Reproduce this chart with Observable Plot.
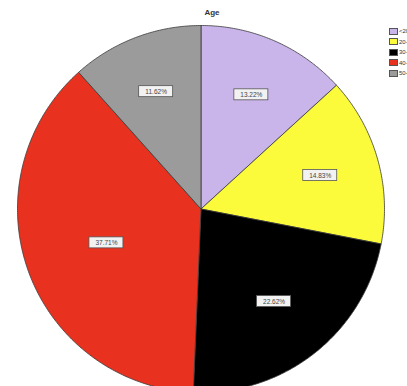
<!DOCTYPE html>
<html>
<head>
<meta charset="utf-8">
<script src="https://cdn.jsdelivr.net/npm/d3@7"></script>
<script src="https://cdn.jsdelivr.net/npm/@observablehq/plot@0.6"></script>
<style>
  html, body { margin: 0; padding: 0; background: #fff; overflow: hidden; }
  #wrap { position: relative; width: 407px; height: 386px; }
  #legend { position: absolute; left: 389px; top: 26px; font: 6px "Liberation Sans", Arial, sans-serif; color: #333; }
  #legend div { display: flex; align-items: center; height: 10.5px; white-space: nowrap; }
  #legend span.sw { display: inline-block; width: 7px; height: 5px; border: 0.5px solid #555; margin-right: 1px; }
</style>
</head>
<body>
<div id="wrap"><div id="chart"></div><div id="legend"></div></div>
<script>
const categories = ["<20", "20-29", "30-39", "40-49", "50+"];
const percents = [13.22, 14.83, 22.62, 37.71, 11.62];
const labels = ["13.22%", "14.83%", "22.62%", "37.71%", "11.62%"];
const colors = ["#c9b5ea", "#fbfb3c", "#000000", "#e8321f", "#9b9b9b"];
const title = "Age";

const data = categories.map((c, i) => ({key: c, value: percents[i], label: labels[i]}));
const arcs = d3.pie().sort(null).value(d => d.value)(data);

const poly = [];
const labelPts = [];
arcs.forEach(a => {
  const k = a.data.key;
  poly.push({key: k, x: 0, y: 0});
  const n = Math.max(2, Math.ceil((a.endAngle - a.startAngle) / 0.01));
  for (let j = 0; j <= n; j++) {
    const t = a.startAngle + (a.endAngle - a.startAngle) * j / n;
    poly.push({key: k, x: Math.sin(t), y: Math.cos(t)});
  }
  poly.push({key: k, x: 0, y: 0});
  const m = (a.startAngle + a.endAngle) / 2;
  const th = a.endAngle - a.startAngle;
  // centroid of the sector, pushed slightly outward
  const r = 1.05 * 4 * Math.sin(th / 2) / (3 * th);
  labelPts.push({key: k, label: a.data.label, x: r * Math.sin(m), y: r * Math.cos(m)});
});

const chart = Plot.plot({
  width: 407,
  height: 386,
  margin: 0,
  x: {domain: [-1, 1], range: [17, 384], axis: null},
  y: {domain: [-1, 1], range: [392, 25], axis: null},
  color: {domain: categories, range: colors},
  marks: [
    Plot.line(poly, {x: "x", y: "y", z: "key", fill: "key", stroke: "#3a3a3a", strokeWidth: 0.8, curve: "linear"}),
    Plot.rect(labelPts, {x1: "x", x2: "x", y1: "y", y2: "y", insetLeft: -17, insetRight: -17, insetTop: -5.5, insetBottom: -5.5, fill: "#f2f2f2", stroke: "#555", strokeWidth: 0.8}),
    Plot.text(labelPts, {x: "x", y: "y", text: "label", fontSize: 6.5, fill: "#444", fontFamily: "Liberation Sans, Arial, sans-serif"}),
    Plot.text([title], {frameAnchor: "top", dy: 9, dx: 8, text: d => d, fontSize: 8, fontWeight: "bold", fill: "#333", fontFamily: "Liberation Sans, Arial, sans-serif"})
  ]
});
document.getElementById("chart").appendChild(chart);

const leg = document.getElementById("legend");
categories.forEach((c, i) => {
  const row = document.createElement("div");
  const sw = document.createElement("span");
  sw.className = "sw";
  sw.style.background = colors[i];
  row.appendChild(sw);
  row.appendChild(document.createTextNode(c));
  leg.appendChild(row);
});
</script>
</body>
</html>
